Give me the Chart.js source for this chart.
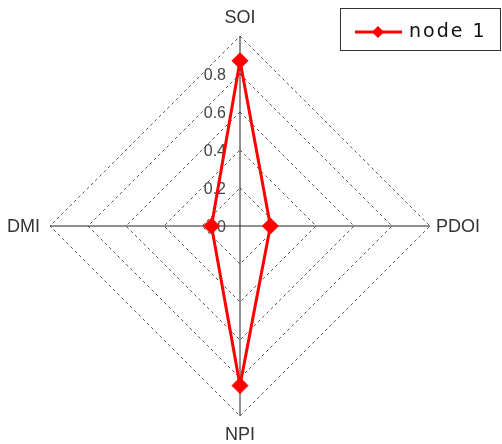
<!DOCTYPE html>
<html>
<head>
<meta charset="utf-8">
<script src="https://cdn.jsdelivr.net/npm/chart.js@4/dist/chart.umd.min.js"></script>
<style>
  html, body { margin: 0; padding: 0; background: #fff; }
  #wrap { width: 502px; height: 444px; }
</style>
</head>
<body>
<div id="wrap"><canvas id="radarChart" width="502" height="444"></canvas></div>
<script>
// axes go clockwise from the top
const axisLabels = ['SOI', 'PDOI', 'NPI', 'DMI'];
const nodeValues = [0.87, 0.16, 0.84, 0.15];
const tickValues = [0, 0.2, 0.4, 0.6, 0.8];
const seriesName = 'node 1';

const red = '#ff0000';

// tick numbers, axis names and the boxed legend are drawn by hand
const radarText = {
  id: 'radarText',
  beforeDatasetsDraw(chart) {
    const r = chart.scales.r;
    const ctx = chart.ctx;
    ctx.save();
    ctx.font = '16px "Liberation Sans", Arial, sans-serif';
    ctx.fillStyle = '#444';
    ctx.textAlign = 'right';
    ctx.textBaseline = 'middle';
    tickValues.forEach(v => {
      const d = r.getDistanceFromCenterForValue(v);
      ctx.fillText(String(v), r.xCenter - 14, r.yCenter - d + 2);
    });
    ctx.restore();
  },
  afterDraw(chart) {
    const r = chart.scales.r;
    const ctx = chart.ctx;
    ctx.save();
    ctx.font = '18px "Liberation Sans", Arial, sans-serif';
    ctx.fillStyle = '#333';
    ctx.textBaseline = 'middle';
    axisLabels.forEach((lab, i) => {
      const p = r.getPointPosition(i, r.drawingArea);
      let x = p.x, y = p.y;
      if (Math.abs(p.x - r.xCenter) < 1) {
        ctx.textAlign = 'center';
        y += p.y < r.yCenter ? -18 : 19;
      } else if (p.x > r.xCenter) {
        ctx.textAlign = 'left';
        x += 6;
        y += 1;
      } else {
        ctx.textAlign = 'right';
        x -= 10;
        y += 1;
      }
      ctx.fillText(lab, x, y);
    });

    // legend box
    const ds = chart.data.datasets[0];
    ctx.strokeStyle = '#333';
    ctx.lineWidth = 1;
    ctx.strokeRect(340.5, 8.5, 160, 42);
    ctx.strokeStyle = ds.borderColor;
    ctx.lineWidth = 3;
    ctx.beginPath();
    ctx.moveTo(355, 32);
    ctx.lineTo(402, 32);
    ctx.stroke();
    ctx.fillStyle = ds.pointBackgroundColor;
    ctx.beginPath();
    ctx.moveTo(372, 32);
    ctx.lineTo(378, 26);
    ctx.lineTo(384, 32);
    ctx.lineTo(378, 38);
    ctx.closePath();
    ctx.fill();
    ctx.fillStyle = '#111';
    ctx.font = '19px "DejaVu Sans", sans-serif';
    ctx.letterSpacing = '2px';
    ctx.textAlign = 'left';
    ctx.fillText(ds.label, 409, 32);
    ctx.restore();
  }
};

new Chart(document.getElementById('radarChart'), {
  type: 'radar',
  data: {
    labels: axisLabels,
    datasets: [{
      label: seriesName,
      data: nodeValues,
      borderColor: red,
      backgroundColor: 'rgba(0,0,0,0)',
      borderWidth: 3,
      fill: false,
      tension: 0,
      pointStyle: 'rectRot',
      pointRadius: 8,
      pointHoverRadius: 8,
      pointBackgroundColor: red,
      pointBorderColor: red,
      pointBorderWidth: 1
    }]
  },
  options: {
    responsive: false,
    animation: false,
    events: [],
    layout: { padding: { left: 50, right: 72, top: 36, bottom: 28 } },
    plugins: {
      legend: { display: false },
      tooltip: { enabled: false }
    },
    scales: {
      r: {
        min: 0,
        max: 1,
        ticks: { display: false, stepSize: 0.2 },
        pointLabels: { display: false },
        grid: {
          circular: false,
          color: '#555',
          lineWidth: 1
        },
        border: { dash: [3, 3] },
        angleLines: { color: '#222', lineWidth: 1 }
      }
    }
  },
  plugins: [radarText]
});
</script>
</body>
</html>
